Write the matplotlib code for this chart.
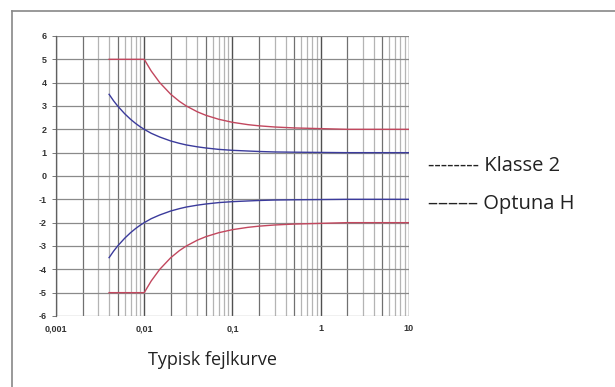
import numpy as np
import matplotlib
matplotlib.use("Agg")
import matplotlib.pyplot as plt
from matplotlib.lines import Line2D

plt.rcParams["axes.unicode_minus"] = False

# data
x_vals = [0.004, 0.0045, 0.005, 0.006, 0.007, 0.008, 0.009, 0.01, 0.012, 0.015,
          0.02, 0.025, 0.03, 0.04, 0.05, 0.07, 0.1, 0.15, 0.2, 0.3, 0.5, 1, 2, 5, 10]
blue_up = [3.5, 3.22, 3.0, 2.67, 2.43, 2.25, 2.11, 2.0, 1.83, 1.67,
           1.5, 1.4, 1.33, 1.25, 1.2, 1.14, 1.1, 1.07, 1.05, 1.03, 1.02, 1.01, 1.0, 1.0, 1.0]
red_up = [5, 5, 5, 5, 5, 5, 5, 5, 4.5, 4.0,
          3.5, 3.2, 3.0, 2.75, 2.6, 2.43, 2.3, 2.2, 2.15, 2.1, 2.06, 2.03, 2.0, 2.0, 2.0]
blue_dn = [-v for v in blue_up]
red_dn = [-v for v in red_up]

x_ticks = [0.001, 0.01, 0.1, 1, 10]
x_labels = ["0,001", "0,01", "0,1", "1", "10"]
y_ticks = list(range(-6, 7))

legend_lines = ["-------- Klasse 2", "––––– Optuna H"]
title = "Typisk fejlkurve"

RED = "#c2475e"
BLUE = "#3b3b9c"

fig = plt.figure(figsize=(6.15, 3.87), dpi=100)
ax = fig.add_axes([0.091, 0.1835, 0.574, 0.7235])

ax.set_xscale("log")
ax.set_xlim(0.001, 10)
ax.set_ylim(-6, 6)

# grid
for dec in [0.001, 0.01, 0.1, 1]:
    for m in range(2, 10):
        xv = dec * m
        c = "#707070" if m in (2, 5) else "#b4b4b4"
        ax.axvline(xv, color=c, lw=0.9, zorder=1)
for xv in x_ticks:
    ax.axvline(xv, color="#505050", lw=1.0, zorder=1)
for yv in y_ticks:
    ax.axhline(yv, color="#8a8a8a", lw=0.9, zorder=1)

ax.plot(x_vals, red_up, color=RED, lw=1.0, zorder=3)
ax.plot(x_vals, blue_up, color=BLUE, lw=1.0, zorder=3)
ax.plot(x_vals, blue_dn, color=BLUE, lw=1.0, zorder=3)
ax.plot(x_vals, red_dn, color=RED, lw=1.0, zorder=3)

for s in ["top", "right", "bottom"]:
    ax.spines[s].set_visible(False)
ax.spines["left"].set_color("#606060")
ax.spines["left"].set_linewidth(0.9)

ax.set_xticks(x_ticks)
ax.set_xticklabels(x_labels)
ax.minorticks_off()
ax.set_yticks(y_ticks)
ax.tick_params(axis="both", labelsize=6.5, length=3, width=0.6, color="#606060",
               labelcolor="#333333")
ax.tick_params(axis="x", pad=6, length=0)
for lab in ax.get_xticklabels() + ax.get_yticklabels():
    lab.set_family("Liberation Sans")
    lab.set_weight("bold")

# legend as plain text
fig.text(428 / 615, 1 - 166 / 387, legend_lines[0], fontsize=14.5,
         family="Open Sans", color="#222222", va="center", ha="left")
fig.text(428 / 615, 1 - 204 / 387, legend_lines[1], fontsize=14.5,
         family="Open Sans", color="#222222", va="center", ha="left")

fig.text(213 / 615, 1 - 360 / 387, title, fontsize=13,
         family="Open Sans", color="#222222", va="center", ha="center")

# outer frame (left and top)
fig.add_artist(Line2D([12 / 615, 12 / 615], [0, 1 - 11 / 387], color="#888888", lw=1.2))
fig.add_artist(Line2D([12 / 615, 1], [1 - 11 / 387, 1 - 11 / 387], color="#888888", lw=1.2))

fig.savefig("out.png", dpi=100)
